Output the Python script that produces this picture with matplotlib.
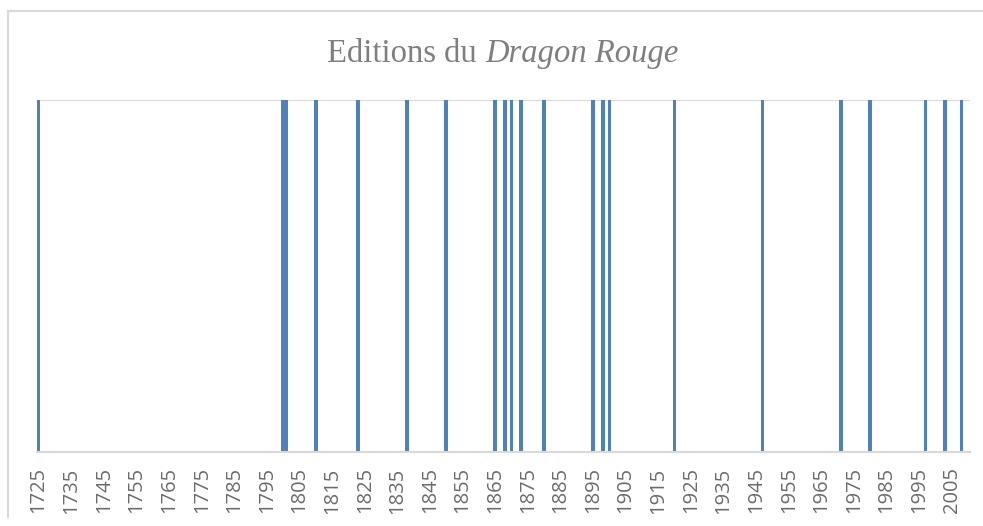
import matplotlib.pyplot as plt
from matplotlib.lines import Line2D

# editions du Dragon Rouge, one bar per edition year
years = [1725, 1800, 1801, 1810, 1823, 1838, 1850, 1865, 1868, 1870, 1873,
         1880, 1895, 1898, 1900, 1920, 1947, 1971, 1980, 1997, 2003, 2008]
editions = [1] * len(years)
tick_years = list(range(1725, 2006, 10))

W, H = 983, 526
fig = plt.figure(figsize=(W / 100, H / 100), dpi=100)
ax = fig.add_axes([37 / W, 1 - 452 / H, (970 - 37) / W, (452 - 100) / H])

ax.bar(years, editions, width=1.1, color='#4f81bd', linewidth=0)
ax.set_xlim(1724.5, 2010.6)
ax.set_ylim(0, 1)

# top gridline + bottom axis line, light grey like Excel
ax.axhline(1, color='#d9d9d9', lw=1.5, zorder=0)
for s in ['left', 'right', 'top']:
    ax.spines[s].set_visible(False)
ax.spines['bottom'].set_color('#d9d9d9')
ax.spines['bottom'].set_linewidth(1.5)

ax.set_yticks([])
ax.set_xticks(tick_years)
ax.set_xticklabels([str(y) for y in tick_years], rotation=90,
                   fontsize=14.5, color='#6b6b6b', family='Open Sans')
ax.tick_params(axis='x', length=0, pad=11)

# title: regular + italic part
tx, ty = 485 / W, 1 - 54 / H
fig.text(tx, ty, 'Editions du ', ha='right', va='center',
         fontsize=23.5, color='#7f7f7f', family='Liberation Serif')
fig.text(tx, ty, 'Dragon Rouge', ha='left', va='center',
         fontsize=23.5, color='#7f7f7f', family='Liberation Serif', style='italic')

# chart area border (left and top edges visible)
fig.add_artist(Line2D([8 / W, 8 / W], [1 - 11 / H, 1 - 517 / H],
                      transform=fig.transFigure, color='#d9d9d9', lw=1.5))
fig.add_artist(Line2D([8 / W, 1], [1 - 11 / H, 1 - 11 / H],
                      transform=fig.transFigure, color='#d9d9d9', lw=1.5))

fig.savefig('out.png', dpi=100)
